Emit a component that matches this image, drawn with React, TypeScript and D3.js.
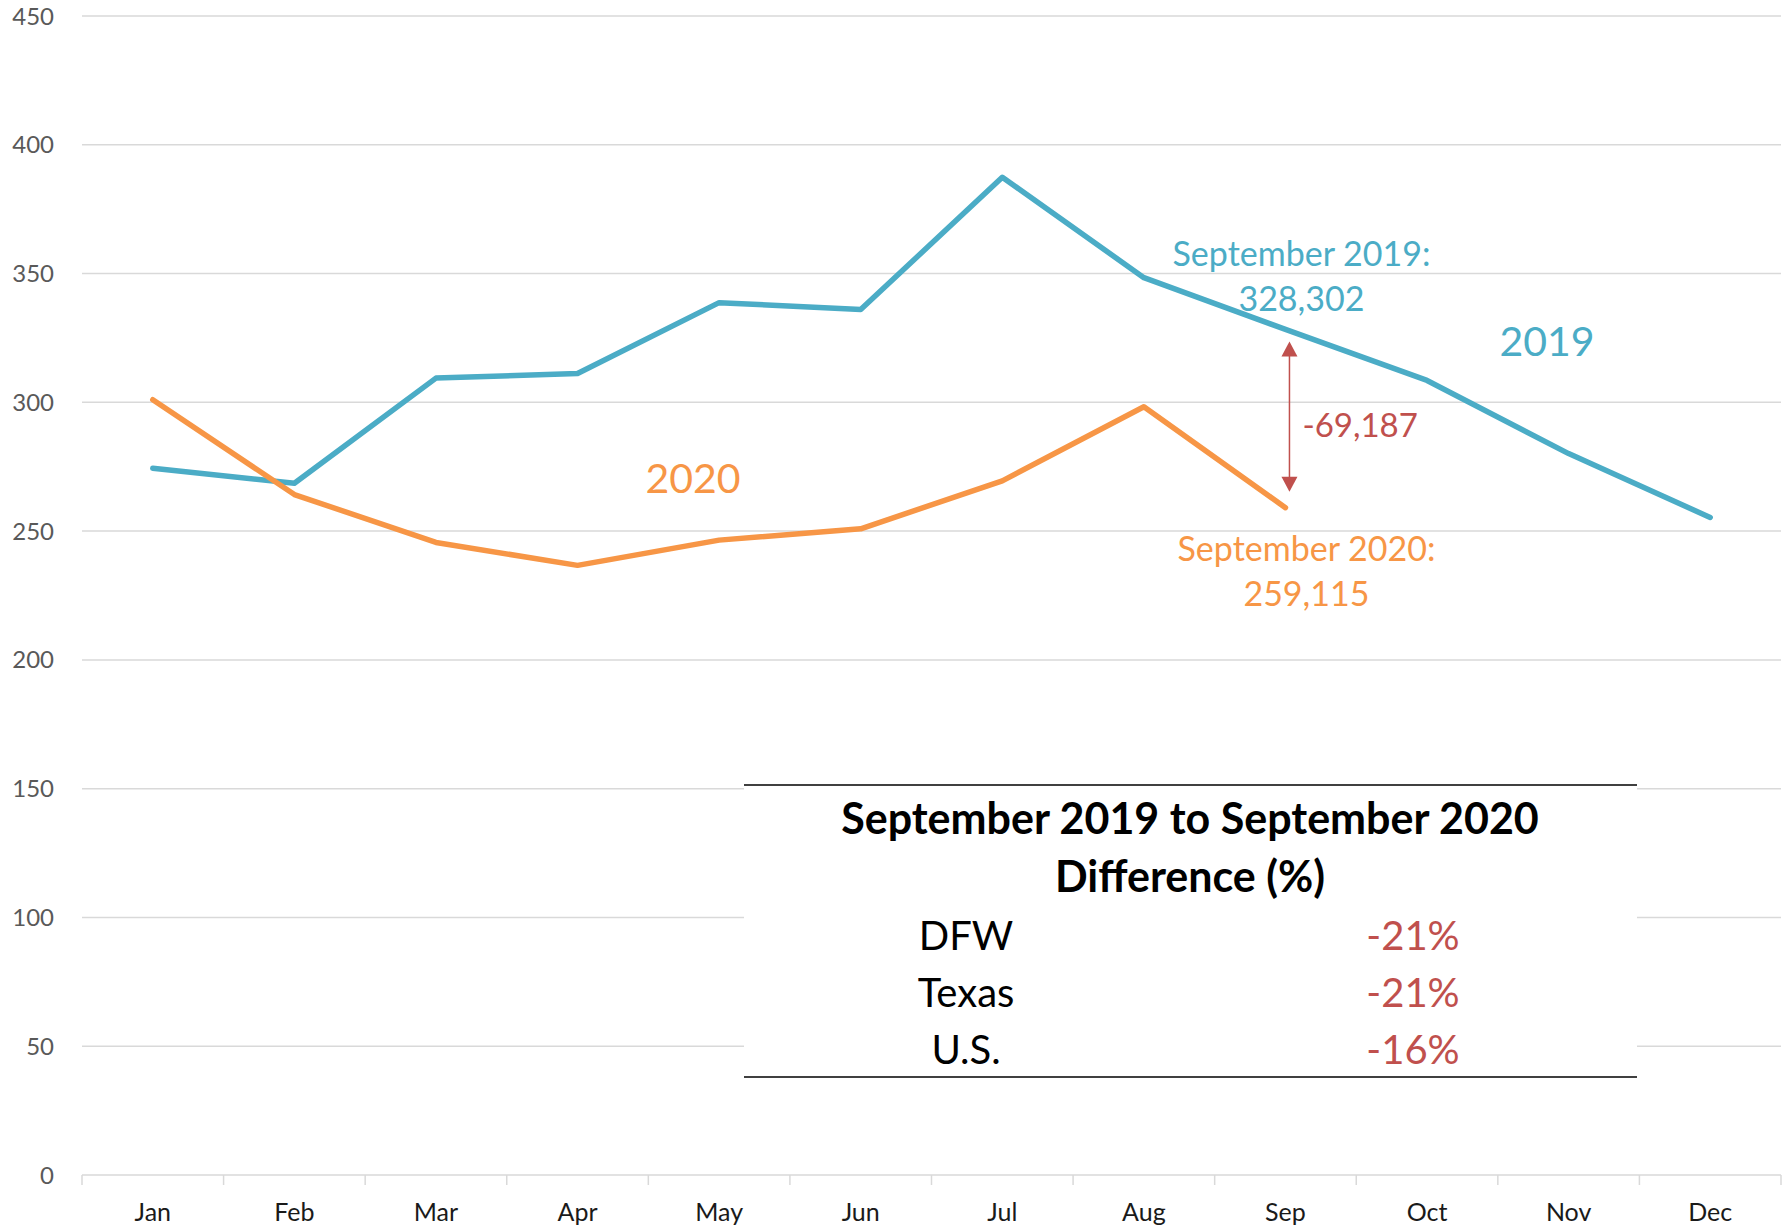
import React from "react";
import * as d3 from "d3";

const months = ["Jan","Feb","Mar","Apr","May","Jun","Jul","Aug","Sep","Oct","Nov","Dec"];
const values2019 = [274.4, 268.6, 309.4, 311.2, 338.7, 336.0, 387.4, 348.4, 328.3, 308.5, 280.1, 255.3];
const values2020 = [301.0, 264.2, 245.6, 236.7, 246.5, 250.9, 269.5, 298.3, 259.1];
const yTicks = [0, 50, 100, 150, 200, 250, 300, 350, 400, 450];
const tableTitle = ["September 2019 to September 2020", "Difference (%)"];
const tableRegions = ["DFW", "Texas", "U.S."];
const tableValues = ["-21%", "-21%", "-16%"];

const BLUE = "#4bacc6";
const ORANGE = "#f79646";
const RED = "#c0504d";
const GRID = "#d9d9d9";
const FONT = "Lato, 'Open Sans', sans-serif";

export default function App() {
  const W = 1791, H = 1229;
  const left = 82, right = 1781, top = 16, bottom = 1175;
  const x = d3.scaleBand<string>().domain(months).range([left, right]).padding(0);
  const y = d3.scaleLinear().domain([0, 450]).range([bottom, top]);
  const cx = (m: string) => (x(m) as number) + x.bandwidth() / 2;
  const line = d3.line<number>().x((_, i) => cx(months[i])).y(d => y(d));

  const sepX = cx("Sep");
  const arrowTop = y(values2019[8]) + 12;
  const arrowBot = y(values2020[8]) - 16;

  const tblL = 744, tblR = 1637, tblT = 785, tblB = 1077;

  return (
    <svg width={W} height={H} style={{ position: "absolute", left: 0, top: 0, background: "#fff" }} fontFamily={FONT}>
      <rect x={0} y={0} width={W} height={H} fill="#fff" />
      {yTicks.map(t => (
        <g key={t}>
          <line x1={left} x2={right} y1={y(t)} y2={y(t)} stroke={GRID} strokeWidth={1.5} />
          <text x={54} y={y(t) + 8.5} textAnchor="end" fontSize={24} fill="#595959">{t}</text>
        </g>
      ))}
      {months.map((m, i) => (
        <line key={"tk" + m} x1={x(m) as number} x2={x(m) as number} y1={bottom} y2={bottom + 10} stroke={GRID} strokeWidth={1.5} />
      ))}
      <line x1={right} x2={right} y1={bottom} y2={bottom + 10} stroke={GRID} strokeWidth={1.5} />
      {months.map(m => (
        <text key={"xl" + m} x={cx(m)} y={1221} textAnchor="middle" fontSize={25} fill="#1a1a1a">{m}</text>
      ))}

      <path d={line(values2019) || ""} fill="none" stroke={BLUE} strokeWidth={5.5} strokeLinejoin="round" strokeLinecap="round" />
      <path d={line(values2020) || ""} fill="none" stroke={ORANGE} strokeWidth={5.5} strokeLinejoin="round" strokeLinecap="round" />

      {/* difference arrow */}
      <line x1={sepX + 4} x2={sepX + 4} y1={arrowTop + 12} y2={arrowBot - 12} stroke={RED} strokeWidth={1.5} />
      <path d={`M${sepX + 4},${arrowTop} l-8,15 l16,0 z`} fill={RED} />
      <path d={`M${sepX + 4},${arrowBot} l-8,-15 l16,0 z`} fill={RED} />
      <text x={sepX + 17} y={437} fontSize={33} fill={RED}>-69,187</text>

      <text x={sepX + 16} y={266} textAnchor="middle" fontSize={34} fill={BLUE}>September 2019:</text>
      <text x={sepX + 16} y={311} textAnchor="middle" fontSize={34} fill={BLUE}>328,302</text>
      <text x={sepX + 21} y={561} textAnchor="middle" fontSize={34} fill={ORANGE}>September 2020:</text>
      <text x={sepX + 21} y={606} textAnchor="middle" fontSize={34} fill={ORANGE}>259,115</text>

      <text x={1547} y={356} textAnchor="middle" fontSize={41} fill={BLUE}>2019</text>
      <text x={693} y={493} textAnchor="middle" fontSize={41} fill={ORANGE}>2020</text>

      {/* table */}
      <rect x={tblL} y={tblT} width={tblR - tblL} height={tblB - tblT} fill="#fff" />
      <line x1={tblL} x2={tblR} y1={tblT} y2={tblT} stroke="#000" strokeWidth={1.5} />
      <line x1={tblL} x2={tblR} y1={tblB} y2={tblB} stroke="#000" strokeWidth={1.5} />
      {tableTitle.map((t, i) => (
        <text key={t} x={1190} y={834 + i * 58} textAnchor="middle" fontSize={43} fontWeight="bold" fill="#000">{t}</text>
      ))}
      {tableRegions.map((r, i) => (
        <g key={r}>
          <text x={966} y={950 + i * 57} textAnchor="middle" fontSize={40} fill="#000">{r}</text>
          <text x={1413} y={950 + i * 57} textAnchor="middle" fontSize={40} fill={RED}>{tableValues[i]}</text>
        </g>
      ))}
    </svg>
  );
}
